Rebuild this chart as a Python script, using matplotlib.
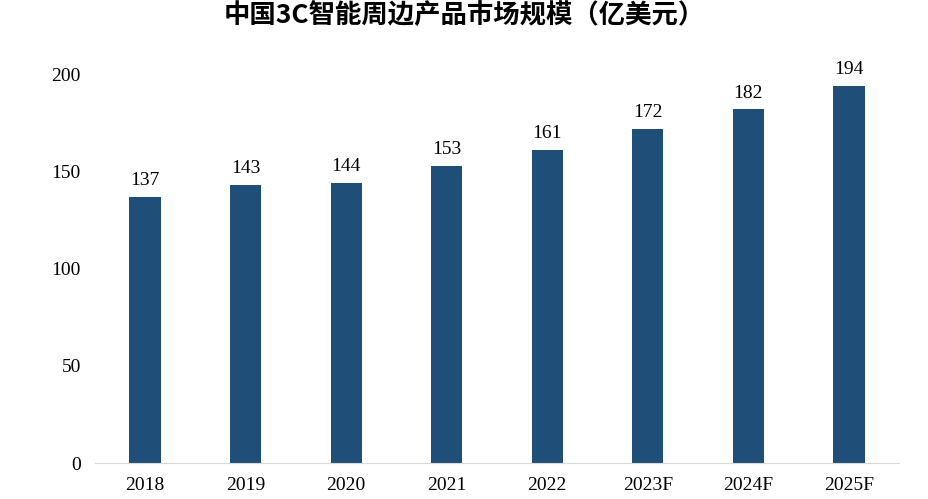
import matplotlib.pyplot as plt
from matplotlib import font_manager

years = ["2018", "2019", "2020", "2021", "2022", "2023F", "2024F", "2025F"]
values = [137, 143, 144, 153, 161, 172, 182, 194]
yticks = [0, 50, 100, 150, 200]

# find an installed CJK font file
cjk_names = ["Noto Sans CJK SC", "Noto Sans CJK JP", "Noto Sans CJK TC", "Noto Sans CJK KR"]
cjk = None
for f in font_manager.fontManager.ttflist:
    if f.name in cjk_names or "CJK" in f.name:
        cjk = f.name
        break
if cjk is None:
    for path in font_manager.findSystemFonts():
        if "CJK" in path:
            font_manager.fontManager.addfont(path)
            cjk = font_manager.FontProperties(fname=path).get_name()
            break

fig = plt.figure(figsize=(9.29, 4.99), dpi=100)
ax = fig.add_axes([0.102, 0.072, 0.866, 0.818])

x = range(len(years))
ax.bar(x, values, width=0.31, color="#1F4E79")
for xi, v in zip(x, values):
    ax.text(xi, v + 4, str(v), ha="center", va="bottom",
            fontsize=14, family="Liberation Serif")

ax.set_xlim(-0.5, len(years) - 0.5)
ax.set_ylim(0, 210)
ax.set_xticks(list(x))
ax.set_xticklabels(years, fontsize=14, family="Liberation Serif")
ax.set_yticks(yticks)
ax.set_yticklabels([str(t) for t in yticks], fontsize=14, family="Liberation Serif")
ax.tick_params(length=0, pad=10)
for s in ["top", "right", "left"]:
    ax.spines[s].set_visible(False)
ax.spines["bottom"].set_color("#d9d9d9")

fig.suptitle("中国3C智能周边产品市场规模（亿美元）", y=0.995,
             fontsize=19, fontweight="bold", family=cjk or "DejaVu Sans")

plt.savefig("out.png")
plt.close()
